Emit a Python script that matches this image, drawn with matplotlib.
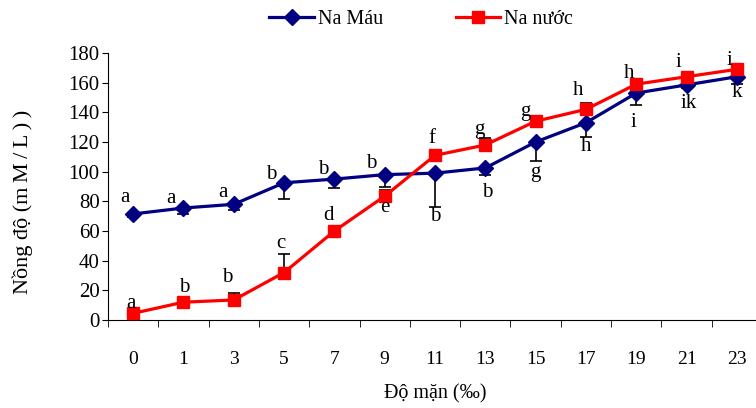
import numpy as np
import matplotlib.pyplot as plt

plt.rcParams['font.family'] = ['Liberation Serif', 'DejaVu Serif']

salinity = ['0', '1', '3', '5', '7', '9', '11', '13', '15', '17', '19', '21', '23']
na_mau = [71.5, 75.5, 78, 92.5, 95, 98, 99, 102.5, 120, 133, 153, 158.5, 164]
na_nuoc = [4.5, 12, 13.5, 32, 60, 83.5, 111, 118, 134, 142, 159, 164, 169]
err_mau = [2, 4, 4, 11, 6, 8.5, 23, 5, 13, 9.5, 8, 2, 5]
err_nuoc = [0, 0, 4.5, 12.5, 0, 4, 0, 4.7, 0, 4.5, 0, 0, 0]
lab_mau = ['a', 'a', 'a', 'b', 'b', 'b', 'b', 'b', 'g', 'h', 'i', 'ik', 'k']
lab_nuoc = ['a', 'b', 'b', 'c', 'd', 'e', 'f', 'g', 'g', 'h', 'h', 'i', 'i']

# label offsets in pixels (dx, dy up)
off_mau = [(-8, 16), (-13, 10), (-11, 12), (-13, 8), (-11, 10), (-13, 11), (0, -43),
           (2, -25), (0, -30), (0, -24), (-3, -29), (2, -19), (0, -16)]
off_nuoc = [(-2, 10), (1, 15), (-7, 22), (-3, 29), (-6, 16), (0, -11), (-3, 17),
            (-6, 15), (-10, 10), (-8, 19), (-7, 11), (-8, 14), (-7, 9)]

x = np.arange(len(salinity))
blue = '#000080'
red = '#FF0000'

fig = plt.figure(figsize=(7.56, 4.08), dpi=100)
ax = fig.add_axes([108 / 756, 88 / 408, 654 / 756, 267 / 408])

zeros = np.zeros(len(x))
ax.errorbar(x, na_mau, yerr=[err_mau, zeros], fmt='none', ecolor='black',
            elinewidth=1.2, capsize=4.3, capthick=1.2, zorder=2)
ax.errorbar(x, na_nuoc, yerr=[zeros, err_nuoc], fmt='none', ecolor='black',
            elinewidth=1.2, capsize=4.3, capthick=1.2, zorder=2)

ax.plot(x, na_mau, color=blue, lw=2.3, marker='D', ms=8.5, label='Na Máu', zorder=3)
ax.plot(x, na_nuoc, color=red, lw=2.3, marker='s', ms=8.5, label='Na nước', zorder=4)

for i in range(len(x)):
    ax.annotate(lab_mau[i], (x[i], na_mau[i]), xytext=off_mau[i], textcoords='offset pixels',
                ha='center', va='center', fontsize=15, zorder=5)
    ax.annotate(lab_nuoc[i], (x[i], na_nuoc[i]), xytext=off_nuoc[i], textcoords='offset pixels',
                ha='center', va='center', fontsize=15, zorder=5)

ax.set_xlim(-0.5, 12.5)
ax.set_ylim(0, 180)
ax.set_yticks(np.arange(0, 181, 20))
ax.set_xticks(x)
ax.set_xticklabels(salinity)
ax.set_xticks(np.arange(-0.5, 13, 1), minor=True)
ax.tick_params(axis='x', which='major', length=0, pad=22, labelsize=14)
ax.tick_params(axis='x', which='minor', length=5, direction='out')
ax.tick_params(axis='y', length=4, pad=2, labelsize=15)
ax.spines['right'].set_color('none')
ax.spines['top'].set_color('none')
ax.set_xlabel('Độ mặn (‰)', fontsize=14.5, labelpad=12)
ax.set_ylabel('Nồng độ (m\u2009M\u2009/\u2009L\u2009)\u2009)', fontsize=16)
ax.yaxis.set_label_coords(-0.1147, 0.442)

fig.legend(loc='upper center', bbox_to_anchor=(0.557, 1.02), ncol=2, frameon=False,
           fontsize=14.5, handlelength=2.2, columnspacing=3.6, handletextpad=0.2)

fig.savefig('out.png', dpi=100)
